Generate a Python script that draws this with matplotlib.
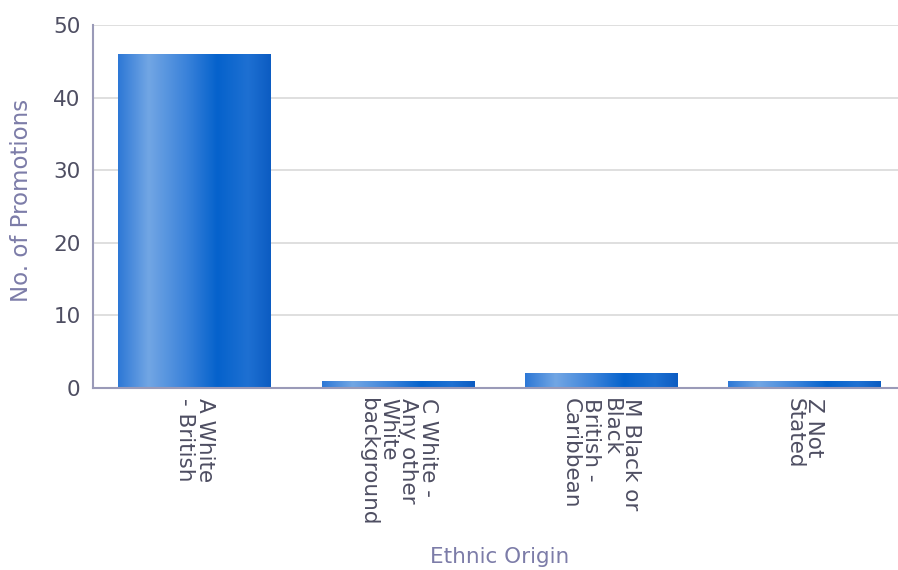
import matplotlib
import matplotlib.pyplot as plt
import numpy as np
from matplotlib.colors import LinearSegmentedColormap

matplotlib.use("Agg")

# Promotions by ethnic origin
categories = [
    "A White\n- British",
    "C White -\nAny other\nWhite\nbackground",
    "M Black or\nBlack\nBritish -\nCaribbean",
    "Z Not\nStated",
]
promotions = [46, 1, 2, 1]
y_ticks = [0, 10, 20, 30, 40, 50]

TICK_COLOR = "#4e4e62"
LABEL_COLOR = "#7c7ca8"
AXIS_COLOR = "#9a9ab8"
GRID_COLOR = "#dcdcdc"

# horizontal shading across each bar: light band on the left, deep blue right of centre
bar_cmap = LinearSegmentedColormap.from_list(
    "bar_shade",
    [(0.0, "#2d78d6"), (0.2, "#72a6e4"), (0.45, "#3a82da"),
     (0.65, "#0562cc"), (0.85, "#1e70d2"), (1.0, "#0c5cc2")],
)

fig = plt.figure(figsize=(8.98, 5.70), dpi=100)
ax = fig.add_axes([93 / 898, 182 / 570, 1 - 93 / 898, 363 / 570])

x = np.arange(len(categories))
bars = ax.bar(x, promotions, width=0.75, facecolor="none", edgecolor="none", zorder=2)

gradient = np.linspace(0, 1, 256).reshape(1, -1)
for bar in bars:
    x0, w, h = bar.get_x(), bar.get_width(), bar.get_height()
    img = ax.imshow(gradient, cmap=bar_cmap, aspect="auto",
                    extent=[x0, x0 + w, 0, h], zorder=2, interpolation="bicubic")
    img.set_clip_path(bar)

ax.set_xlim(-0.5, 3.46)
ax.set_ylim(0, 50)
ax.set_yticks(y_ticks)
ax.set_xticks(x)
ax.set_xticklabels(categories, rotation=270, ha="center", va="top",
                   multialignment="left", linespacing=1.0)

ax.tick_params(axis="y", length=0, pad=9, labelsize=15.5, labelcolor=TICK_COLOR)
ax.tick_params(axis="x", length=0, pad=7, labelsize=15.5, labelcolor=TICK_COLOR)

ax.grid(axis="y", color=GRID_COLOR, linewidth=1.3, zorder=0)
ax.set_axisbelow(True)

for side in ["top", "right"]:
    ax.spines[side].set_visible(False)
ax.spines["left"].set_color(AXIS_COLOR)
ax.spines["bottom"].set_color(AXIS_COLOR)
ax.spines["left"].set_linewidth(1.5)
ax.spines["bottom"].set_linewidth(1.5)

fig.text(500 / 898, 1 - 557 / 570, "Ethnic Origin", ha="center", va="center",
         fontsize=15.5, color=LABEL_COLOR)
fig.text(22 / 898, 1 - 200 / 570, "No. of Promotions", ha="center", va="center",
         rotation=90, fontsize=16.5, color=LABEL_COLOR)

fig.savefig("out.png", dpi=100)
